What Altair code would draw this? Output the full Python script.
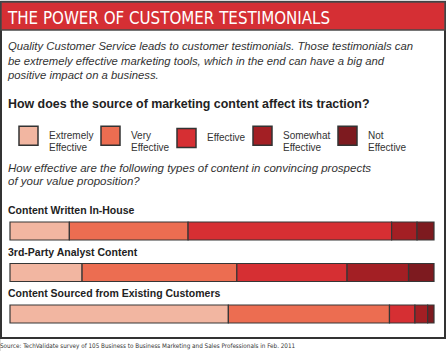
import altair as alt
import pandas as pd

# ---- data ----
categories = ["Extremely Effective", "Very Effective", "Effective", "Somewhat Effective", "Not Effective"]
content_types = ["Content Written In-House", "3rd-Party Analyst Content", "Content Sourced from Existing Customers"]
in_house = [14, 28, 48, 6, 4]
analyst = [17, 36.5, 26, 14.5, 6]
customers = [51.5, 38, 6, 3, 1.5]

title_text = "THE POWER OF CUSTOMER TESTIMONIALS"
intro_text = ("Quality Customer Service leads to customer testimonials. Those testimonials can\n"
              "be extremely effective marketing tools, which in the end can have a big and\n"
              "positive impact on a business.")
question_text = "How does the source of marketing content affect its traction?"
sub_text = ("How effective are the following types of content in convincing prospects\n"
            "of your value proposition?")
source_text = "Source: TechValidate survey of 105 Business to Business Marketing and Sales Professionals in Feb. 2011"

colors = ["#F2B6A1", "#EC6D51", "#D62F33", "#A31F24", "#7D1A1F"]

rows = []
for ct, vals in zip(content_types, [in_house, analyst, customers]):
    for i, (cat, v) in enumerate(zip(categories, vals)):
        rows.append({"content": ct, "rating": cat, "order": i, "value": v})
df = pd.DataFrame(rows)
labels_df = pd.DataFrame({"content": content_types})

W, H = 446, 351
NARROW = "DejaVu Sans Condensed, sans-serif"
SANS = "Liberation Sans, Arial, sans-serif"

one = pd.DataFrame({"a": [0]})

frame = alt.Chart(one).mark_rect(fill="white", stroke="#333333", strokeWidth=2).encode(
    x=alt.value(1), x2=alt.value(445), y=alt.value(2), y2=alt.value(338))
header = alt.Chart(one).mark_rect(fill="#D52F34", stroke="#4a4a4a", strokeWidth=1.5).encode(
    x=alt.value(1), x2=alt.value(445), y=alt.value(2), y2=alt.value(30))

def text_layer(txt, x, y, **kw):
    return alt.Chart(pd.DataFrame({"t": [txt]})).mark_text(
        align="left", baseline="alphabetic", lineBreak="\n", **kw
    ).encode(x=alt.value(x), y=alt.value(y), text="t:N")

title = text_layer(title_text, 8, 24, font=NARROW, fontSize=16.8, color="white")
intro = text_layer(intro_text, 8, 50, font=SANS, fontSize=11.3, fontStyle="italic",
                   color="#333333", lineHeight=14.5)
question = text_layer(question_text, 8, 108, font=SANS, fontSize=12.4, fontWeight="bold", color="#222222")
sub = text_layer(sub_text, 8, 172, font=SANS, fontSize=11.5, fontStyle="italic",
                 color="#333333", lineHeight=12.5)
source = text_layer(source_text, 0, 348, font=NARROW, fontSize=6.3, color="#333333")

yscale = alt.Scale(domain=content_types, range=[222, 323], paddingInner=0.566, paddingOuter=0)

bars = alt.Chart(df).mark_bar(stroke="#363636", strokeWidth=1.2).encode(
    x=alt.X("value:Q", stack="normalize", axis=None,
            scale=alt.Scale(domain=[0, 1], range=[10, 434])),
    y=alt.Y("content:N", axis=None, scale=yscale, sort=content_types),
    color=alt.Color("rating:N", sort=categories,
                    scale=alt.Scale(domain=categories, range=colors),
                    legend=alt.Legend(
                        title=None, orient="none", legendX=18, legendY=125,
                        direction="horizontal", columns=5,
                        symbolType="square", symbolSize=361,
                        symbolStrokeColor="#333333", symbolStrokeWidth=1.5,
                        symbolOpacity=1,
                        labelExpr="split(datum.label, ' ')",
                        labelFont=SANS, labelFontSize=10, labelColor="#333333",
                        labelOffset=10, columnPadding=4, padding=0)),
    order=alt.Order("order:Q"),
)

bar_labels = alt.Chart(labels_df).mark_text(
    align="left", baseline="alphabetic", dy=-17, font=SANS, fontSize=10.5,
    fontWeight="bold", color="#222222"
).encode(x=alt.value(8), y=alt.Y("content:N", axis=None, scale=yscale, sort=content_types),
         text="content:N")

chart = alt.layer(frame, header, title, intro, question, sub, source, bars, bar_labels).properties(
    width=W, height=H, padding=0, autosize=alt.AutoSizeParams(type="none")
).configure_view(stroke=None).configure(background="white")

chart.save("out.html", embed_options={"renderer": "svg", "actions": False})
